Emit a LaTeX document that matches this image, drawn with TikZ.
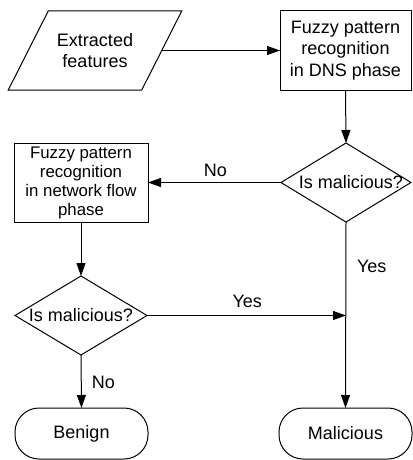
\documentclass[tikz,border=0pt]{standalone}
\usepackage{fontspec}
\setmainfont{Liberation Sans}
\usetikzlibrary{shapes.geometric,arrows.meta}
\begin{document}
\begin{tikzpicture}[x=1pt,y=-1pt,
  line width=1pt,
  every node/.style={inner sep=0pt,outer sep=0pt,align=center},
  big/.style={font=\fontsize{18}{21.7}\selectfont},
  small/.style={font=\fontsize{16.8}{19}\selectfont},
  proc/.style={draw,rectangle},
  decision/.style={draw,diamond,inner sep=-14pt,minimum width=130pt,minimum height=79pt,big},
  term/.style={draw,rectangle,rounded corners=24pt,minimum width=133pt,minimum height=51pt,big},
  arr/.style={-{Triangle[length=13pt,width=9pt]}},
  lbl/.style={big,anchor=base}]
\useasboundingbox (0,0) rectangle (412,460);
\node[big,minimum width=133.5pt,minimum height=79pt] (feat) at (95,50.5) {Extracted\\features};
\draw ([xshift=20pt]feat.north west) -- ([xshift=20pt]feat.north east)
  -- ([xshift=-20pt]feat.south east) -- ([xshift=-20pt]feat.south west) -- cycle;
\node[proc,big,minimum width=131pt,minimum height=79pt] (dns) at (345.5,50.5) {Fuzzy pattern\\recognition\\in DNS phase};
\node[decision] (d1) at (346,182.5) {\hspace*{10pt}Is malicious?};
\node[proc,small,minimum width=134pt,minimum height=79pt] (net) at (81,182.5) {Fuzzy pattern\\recognition\\in network flow\\phase};
\node[decision,minimum width=132pt] (d2) at (81,315.5) {Is malicious?};
\node[term] (benign) at (81.5,433.5) {Benign};
\node[term] (mal) at (345.5,433.5) {Malicious};
\coordinate (j) at (346,315.5);
\draw[arr] (feat.east) -- (dns.west);
\draw[arr] (dns.south) -- (d1.north);
\draw[arr] (d1.west) -- (net.east);
\node[lbl] (lno1) at (215.5,176) {No};
\draw[arr] (net.south) -- (d2.north);
\draw[arr] (d2.east) -- (j);
\node[lbl] (lyes2) at (247.3,307.7) {Yes};
\draw[arr] (d1.south) -- (mal.north);
\node[lbl] (lyes1) at (371.7,272.7) {Yes};
\draw[arr] (d2.south) -- (benign.north);
\node[lbl] (lno2) at (103.3,388.3) {No};
\end{tikzpicture}
\end{document}
